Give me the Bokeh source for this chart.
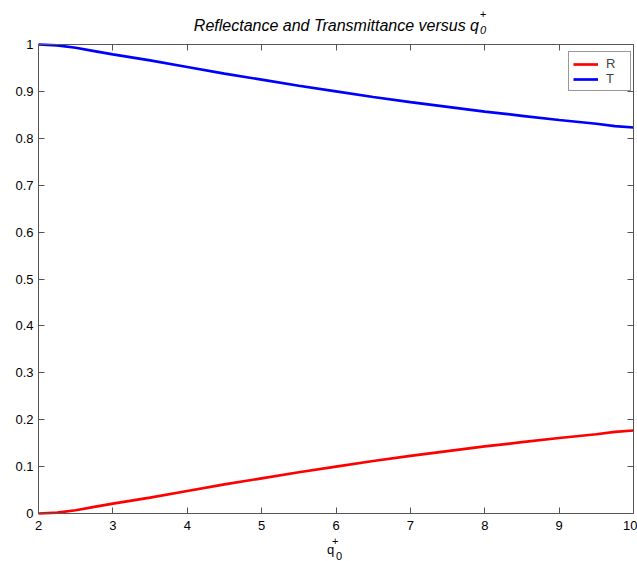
from bokeh.plotting import figure
from bokeh.models import (Range1d, LinearAxis, FixedTicker, CustomJSTickFormatter,
                          Label, Legend, LegendItem, ColumnDataSource)
from bokeh.embed import file_html
from bokeh.resources import INLINE

# ---- data ----
q0 = [2.0, 2.25, 2.5, 2.75, 3.0, 3.5, 4.0, 4.5, 5.0, 5.5, 6.0, 6.5, 7.0, 7.5,
      8.0, 8.5, 9.0, 9.5, 9.75, 10.0]
T_vals = [1.000, 0.998, 0.993, 0.986, 0.979, 0.966, 0.952, 0.938, 0.925, 0.912,
          0.900, 0.888, 0.877, 0.867, 0.857, 0.848, 0.839, 0.831, 0.826, 0.823]
R_vals = [0.000, 0.002, 0.007, 0.014, 0.021, 0.034, 0.048, 0.062, 0.075, 0.088,
          0.100, 0.112, 0.123, 0.133, 0.143, 0.152, 0.161, 0.169, 0.174, 0.177]
x_ticks = [2, 3, 4, 5, 6, 7, 8, 9, 10]
y_ticks = [0, 0.1, 0.2, 0.3, 0.4, 0.5, 0.6, 0.7, 0.8, 0.9, 1.0]
title_main = "Reflectance and Transmittance versus q"
sup_text = "+"
sub_text = "0"
axis_main = "q"
series_names = ["R", "T"]
series_colors = ["#ff0000", "#0000ff"]

FONT = "Liberation Sans"
AXC = "#555555"

W, H = 637, 561
# pixel layout of the axes box inside the canvas
BOX_L, BOX_R, BOX_T, BOX_B = 38, 633, 44, 513
x0, x1 = min(x_ticks), max(x_ticks)
y0, y1 = min(y_ticks), max(y_ticks)
sx = (BOX_R - BOX_L) / (x1 - x0)
sy = (BOX_B - BOX_T) / (y1 - y0)
xr = Range1d(x0 - BOX_L / sx, x1 + (W - BOX_R) / sx)
yr = Range1d(y0 - (H - BOX_B) / sy, y1 + BOX_T / sy)

def px_x(px):
    return x0 + (px - BOX_L) / sx

def px_y(py):
    return y0 + (BOX_B - py) / sy

p = figure(width=W, height=H, output_backend="svg", toolbar_location=None,
           x_range=xr, y_range=yr, x_axis_type=None, y_axis_type=None,
           min_border=0, min_border_left=0, min_border_right=0,
           min_border_top=0, min_border_bottom=0,
           background_fill_color="white", border_fill_color="white")
p.title.visible = False
p.grid.visible = False
p.outline_line_color = None

fmt = CustomJSTickFormatter(code="return String(Math.round(tick*10)/10);")

def make_axis(ticks, loc, bounds, show_labels, standoff):
    ax = LinearAxis(fixed_location=loc, bounds=bounds)
    ax.ticker = FixedTicker(ticks=ticks)
    ax.formatter = fmt
    ax.axis_line_color = AXC
    ax.axis_line_width = 1
    ax.major_tick_line_color = AXC
    ax.major_tick_in = 6
    ax.major_tick_out = 0
    ax.minor_tick_line_color = None
    ax.major_label_text_font = FONT
    ax.major_label_text_font_size = "13px"
    ax.major_label_text_color = "black" if show_labels else None
    ax.major_label_standoff = standoff
    return ax

p.add_layout(make_axis(x_ticks, y0, (x0, x1), True, 7), "below")
p.add_layout(make_axis(y_ticks, x0, (y0, y1), True, 5), "left")
p.add_layout(make_axis(x_ticks, y1, (x0, x1), False, 0), "above")
p.add_layout(make_axis(y_ticks, x1, (y0, y1), False, 0), "right")

src = ColumnDataSource(dict(q=q0, R=R_vals, T=T_vals))
r_line = p.line("q", "R", source=src, line_color=series_colors[0], line_width=2.7)
t_line = p.line("q", "T", source=src, line_color=series_colors[1], line_width=2.7)

LEG_H = 36
legend = Legend(items=[LegendItem(label=series_names[0], renderers=[r_line]),
                       LegendItem(label=series_names[1], renderers=[t_line])],
                location=(568, H - 55 - LEG_H), margin=0, padding=4, spacing=0,
                glyph_width=25, glyph_height=14, label_height=14, label_width=20,
                label_standoff=8, label_text_font=FONT, label_text_font_size="13px",
                border_line_color="#333333", border_line_width=1,
                background_fill_color="white", background_fill_alpha=1.0)
p.add_layout(legend, "center")

# title with stacked super/subscript
p.add_layout(Label(x=px_x(478.5), y=px_y(24.5), text=title_main, text_align="right",
                   text_baseline="alphabetic", text_font=FONT, text_font_size="16px",
                   text_font_style="italic", text_color="black"))
p.add_layout(Label(x=px_x(482.5), y=px_y(13.5), text=sup_text, text_align="center",
                   text_baseline="middle", text_font=FONT, text_font_size="11px",
                   text_font_style="italic", text_color="black"))
p.add_layout(Label(x=px_x(482.5), y=px_y(29.5), text=sub_text, text_align="center",
                   text_baseline="alphabetic", text_font=FONT, text_font_size="11px",
                   text_font_style="italic", text_color="black"))

# x axis label q_0^+
p.add_layout(Label(x=px_x(330), y=px_y(548.5), text=axis_main, text_align="center",
                   text_baseline="alphabetic", text_font=FONT, text_font_size="13px",
                   text_color="black"))
p.add_layout(Label(x=px_x(334.7), y=px_y(540.5), text=sup_text, text_align="center",
                   text_baseline="middle", text_font=FONT, text_font_size="11px",
                   text_color="black"))
p.add_layout(Label(x=px_x(338.5), y=px_y(555.5), text=sub_text, text_align="center",
                   text_baseline="alphabetic", text_font=FONT, text_font_size="11px",
                   text_color="black"))

open("out.html", "w").write(file_html(p, INLINE))
